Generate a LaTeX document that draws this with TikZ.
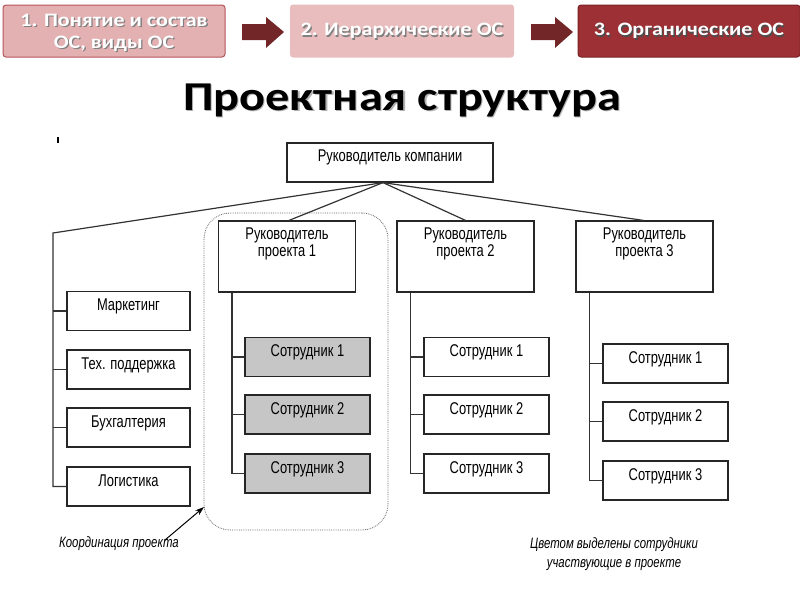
\documentclass[tikz,border=0pt]{standalone}
\usepackage{fontspec}
\setmainfont[FakeStretch=0.76]{Liberation Sans}
\newfontfamily\hdr[FakeStretch=1.16]{Carlito}
\newfontfamily\ttl[FakeStretch=1.18]{Carlito}
\usetikzlibrary{arrows.meta}
\definecolor{pinkA}{HTML}{E4B1B3}
\definecolor{pinkB}{HTML}{E9BDBE}
\definecolor{pinkBorder}{HTML}{B5555B}
\definecolor{redC}{HTML}{9C3034}
\definecolor{redBorder}{HTML}{7A2226}
\definecolor{arrowRed}{HTML}{722628}
\definecolor{empGray}{HTML}{C6C6C6}
\tikzset{
  bx/.style={draw=black!85, line width=1.2pt, fill=white, inner sep=0pt},
  emp/.style={bx, minimum width=125pt, minimum height=39pt},
  dept/.style={bx, minimum width=123pt, minimum height=39pt},
  mgr/.style={bx, minimum width=137pt, minimum height=71pt},
  lbl/.style={anchor=north, inner sep=0pt, align=center, font=\fontsize{17}{17}\selectfont},
  conn/.style={draw=black!80, line width=1.2pt},
  hbox/.style={rounded corners=3pt, inner sep=0pt},
  htext/.style={font=\hdr\bfseries\fontsize{19}{22}\selectfont, text=white, align=center, inner sep=0pt},
  hshadow/.style={font=\hdr\bfseries\fontsize{19}{22}\selectfont, text=black!50, align=center, inner sep=0pt},
  captxt/.style={font=\itshape\fontsize{15}{19}\selectfont, align=center, inner sep=0pt}
}
\begin{document}
\begin{tikzpicture}[x=1pt,y=-1pt]
\useasboundingbox (0,0) rectangle (800,600);
% header
\node[hbox, fill=pinkA, draw=pinkBorder, line width=1pt, minimum width=222pt, minimum height=52pt] (h1) at (114,31) {};
\node[hbox, fill=pinkB, minimum width=224pt, minimum height=53pt] (h2) at (402,31) {};
\node[hbox, fill=redC, draw=redBorder, line width=1pt, minimum width=222pt, minimum height=52pt] (h3) at (689,31) {};
\node[hshadow] (h1s) at ([xshift=1.3pt,yshift=-2.8pt]h1.center) {1. Понятие и состав\\ОС, виды ОС};
\node[htext] (h1t) at ([yshift=-1.5pt]h1.center) {1. Понятие и состав\\ОС, виды ОС};
\node[hshadow] (h2s) at ([xshift=1.3pt,yshift=-1.3pt]h2.center) {2. Иерархические ОС};
\node[htext] (h2t) at (h2.center) {2. Иерархические ОС};
\node[hshadow, text=black!70] (h3s) at ([xshift=1.3pt,yshift=-1.3pt]h3.center) {3. Органические ОС};
\node[htext] (h3t) at (h3.center) {3. Органические ОС};
\fill[arrowRed] (242,24) -- (266,24) -- (266,17) -- (284,32) -- (266,48) -- (266,40) -- (242,40) -- cycle;
\fill[arrowRed] (531,24) -- (555,24) -- (555,17) -- (573,32) -- (555,48) -- (555,40) -- (531,40) -- cycle;
% title
\node[font=\ttl\bfseries\fontsize{41}{46}\selectfont, text=black!30, inner sep=0pt] (titles) at (403.3,101.3) {Проектная структура};
\node[font=\ttl\bfseries\fontsize{41}{46}\selectfont, inner sep=0pt] (title) at (402,100) {Проектная структура};
\draw[line width=2pt] (58,137) -- (58,143);
% dotted coordination frame
\node[draw=black!60, densely dotted, line width=0.8pt, rounded corners=26pt, minimum width=184pt, minimum height=317pt] (coord) at (296,371.5) {};
% boxes
\node[bx, minimum width=206pt, minimum height=39pt] (ceo) at (390,162.5) {};
\node[lbl] (ceot) at ([yshift=-7pt]ceo.north) {Руководитель компании};
\node[mgr] (rp1) at (287,256.5) {};
\node[mgr] (rp2) at (465.5,256.5) {};
\node[mgr] (rp3) at (644.5,256.5) {};
\node[lbl] (rp1t) at ([yshift=-7pt]rp1.north) {Руководитель\\проекта 1};
\node[lbl] (rp2t) at ([yshift=-7pt]rp2.north) {Руководитель\\проекта 2};
\node[lbl] (rp3t) at ([yshift=-7pt]rp3.north) {Руководитель\\проекта 3};
\node[dept] (mk) at (128.5,311) {};
\node[dept] (ts) at (128.5,369.5) {};
\node[dept] (bu) at (128.5,427.5) {};
\node[dept] (lo) at (128.5,486.5) {};
\node[lbl] (mkt) at ([yshift=-8pt]mk.north) {Маркетинг};
\node[lbl] (tst) at ([yshift=-8pt]ts.north) {Тех. поддержка};
\node[lbl] (but) at ([yshift=-8pt]bu.north) {Бухгалтерия};
\node[lbl] (lot) at ([yshift=-8pt]lo.north) {Логистика};
\foreach \p/\x/\ya/\yb/\yc/\f in {1/307.5/357/414.5/473.5/empGray, 2/486.5/357/414.5/473.5/white, 3/665.5/363.5/421.5/480.5/white}{
  \node[emp, fill=\f] (e\p1) at (\x,\ya) {};
  \node[emp, fill=\f] (e\p2) at (\x,\yb) {};
  \node[emp, fill=\f] (e\p3) at (\x,\yc) {};
  \node[lbl] (e\p1t) at ([yshift=-8pt]e\p1.north) {Сотрудник 1};
  \node[lbl] (e\p2t) at ([yshift=-8pt]e\p2.north) {Сотрудник 2};
  \node[lbl] (e\p3t) at ([yshift=-8pt]e\p3.north) {Сотрудник 3};
}
% connectors
\coordinate (J) at ([xshift=-7pt]ceo.south);
\coordinate (L0) at (53,233);
\draw[conn] (J) -- (L0) -- (L0 |- lo.west) -- (lo.west);
\draw[conn] (L0 |- mk.west) -- (mk.west);
\draw[conn] (L0 |- ts.west) -- (ts.west);
\draw[conn] (L0 |- bu.west) -- (bu.west);
\draw[conn] (J) -- ([xshift=2pt]rp1.north);
\draw[conn] (J) -- (rp2.north);
\draw[conn] (J) -- ([xshift=-1pt]rp3.north);
\foreach \p in {1,2,3}{
  \coordinate (v\p) at ([xshift=14pt]rp\p.south west);
  \draw[conn] (v\p) |- (e\p3.west);
  \draw[conn] (v\p |- e\p1.west) -- (e\p1.west);
  \draw[conn] (v\p |- e\p2.west) -- (e\p2.west);
}
% captions
\coordinate (atail) at (165,540);
\coordinate (ahead) at (204,507);
\draw[line width=1pt, -{Stealth[length=9pt,width=6pt]}] (atail) -- (ahead);
\node[captxt] (capL) at (119,544) {Координация проекта};
\node[captxt] (capR) at (614,554) {Цветом выделены сотрудники\\участвующие в проекте};
\end{tikzpicture}
\end{document}
